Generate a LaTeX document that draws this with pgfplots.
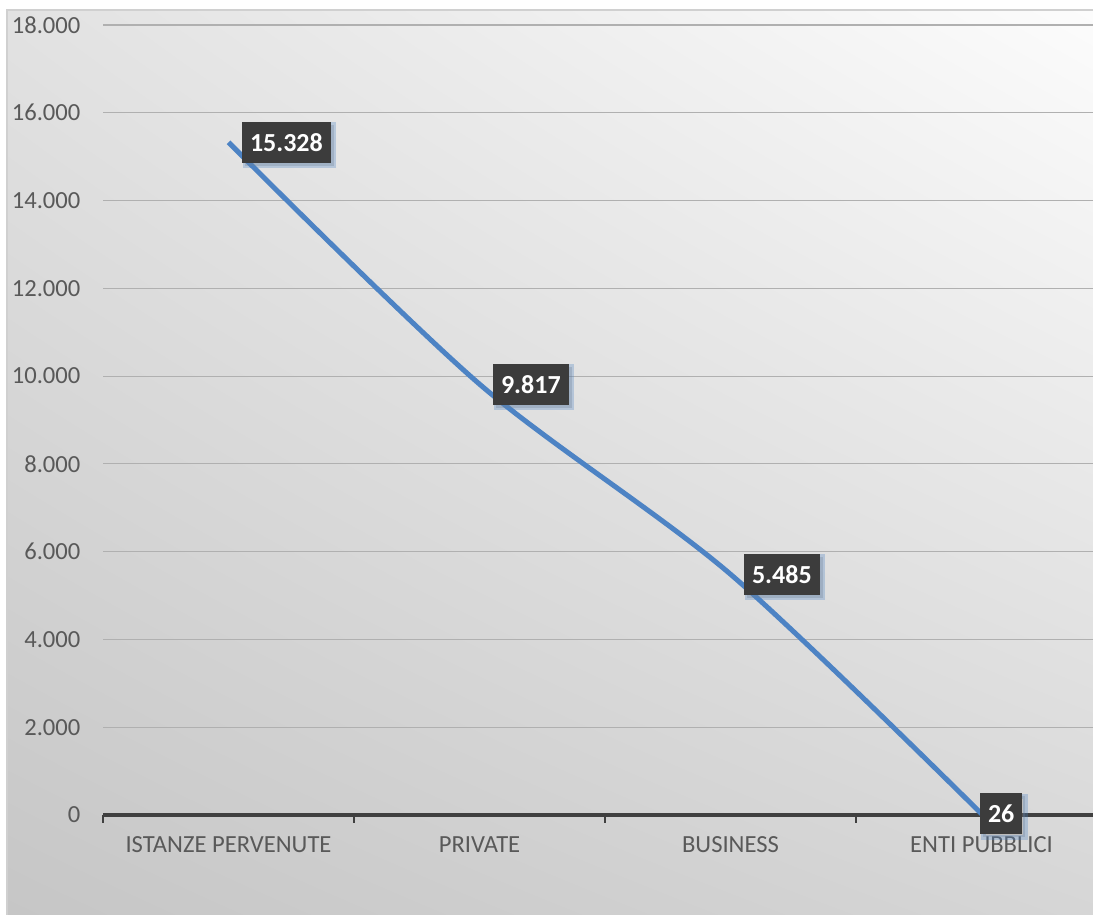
\documentclass[border=0pt]{standalone}
\usepackage{pgfplots}
\pgfplotsset{compat=1.18}
\usepackage{fontspec}
\setmainfont{Carlito}
\usetikzlibrary{shadows,shadings}

\definecolor{bgtl}{HTML}{E2E2E2}
\definecolor{bgtr}{HTML}{FCFCFC}
\definecolor{bgbl}{HTML}{C6C6C6}
\definecolor{bgbr}{HTML}{D6D6D6}
\definecolor{frame}{HTML}{D0D0D0}
\definecolor{axisdark}{HTML}{404040}
\definecolor{ticktext}{HTML}{595959}
\definecolor{gridgray}{HTML}{B0B0B0}
\definecolor{linecol}{HTML}{4D83C4}
\definecolor{labelbox}{HTML}{3C3C3C}

\begin{document}
\begin{tikzpicture}
\useasboundingbox (0,0) rectangle (546.5pt,457.5pt);
\shade[upper left=bgtl, upper right=bgtr, lower left=bgbl, lower right=bgbr]
  (3.5pt,0pt) rectangle (546.5pt,452.5pt);
\draw[frame, line width=0.8pt] (3.5pt,0pt) -- (3.5pt,452.5pt) -- (546.5pt,452.5pt);

\begin{axis}[
    at={(51.5pt,50pt)}, anchor=south west,
    scale only axis,
    width=495pt, height=395pt,
    xmin=-0.5, xmax=3.444,
    ymin=0, ymax=18000,
    ytick={0,2000,...,18000},
    xtick={0,1,2,3},
    xticklabels={ISTANZE PERVENUTE, PRIVATE, BUSINESS, ENTI PUBBLICI},
    major x tick style={draw=none},
    minor xtick={-0.5,0.5,1.5,2.5},
    minor tick length=4pt,
    minor x tick style={draw=axisdark, line width=1pt},
    tick align=outside,
    xtick pos=bottom,
    major y tick style={draw=none},
    axis line style={draw=none},
    ymajorgrids,
    grid style={gridgray, line width=0.6pt},
    scaled y ticks=false,
    /pgf/number format/.cd, 1000 sep={.}, assume math mode=true,
    /pgfplots/.cd,
    tick label style={font=\fontsize{12.3}{14}\selectfont, text=ticktext},
    yticklabel style={xshift=-3.5pt},
    xticklabel style={yshift=-3pt},
    clip=false,
    nodes near coords,
    every node near coord/.style={
        anchor=west, xshift=5.5pt,
        fill=labelbox, text=white,
        font=\fontsize{13}{15}\selectfont\bfseries,
        inner xsep=4pt, minimum height=20.5pt,
        drop shadow={opacity=0.3, shadow xshift=1.5pt, shadow yshift=-1.5pt}},
]
\draw[gridgray, line width=0.6pt] (axis cs:-0.5,18000) -- (axis cs:3.444,18000);
\draw[axisdark, line width=2pt] (axis cs:-0.5,0) -- (axis cs:3.444,0);
\addplot[linecol, line width=2.5pt, smooth, tension=0.5,
         coordinate style/.condition={x==3}{xshift=-7.5pt}]
  coordinates {
    (0,15328)
    (1,9817)
    (2,5485)
    (3,26)
  };
\end{axis}
\end{tikzpicture}
\end{document}
